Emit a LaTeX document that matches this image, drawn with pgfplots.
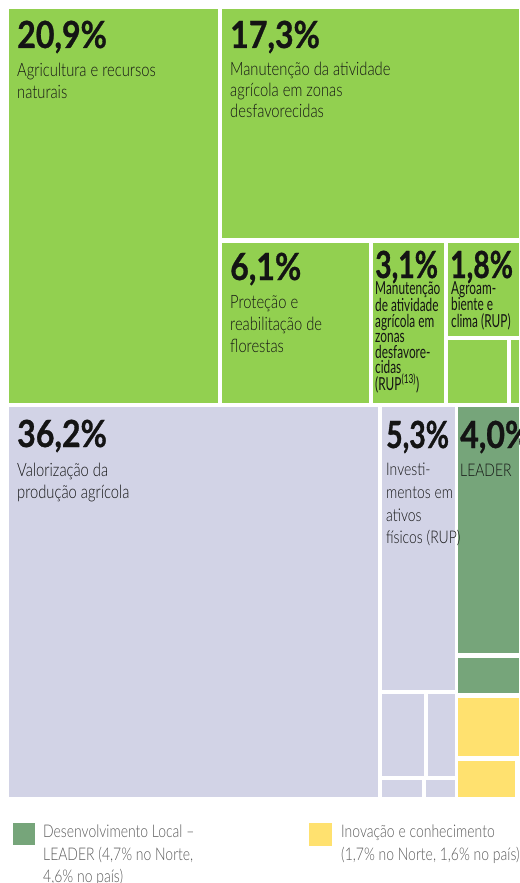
\documentclass[border=0pt]{standalone}
\usepackage{pgfplots}
\pgfplotsset{compat=1.18}
\usepackage{fontspec}
\IfFontExistsTF{Lato Light}{%
  \setmainfont{Lato Light}[FakeStretch=0.80]
}{%
  \setmainfont{Lato}[FakeStretch=0.80]
}
\newfontfamily\narrowfont{Lato}[FakeStretch=0.66]
\newfontfamily\numfont{Lato}[FakeStretch=0.86, FakeBold=0.8]
\newfontfamily\numnarrow{Lato}[FakeStretch=0.76, FakeBold=0.8]
\definecolor{lgreen}{RGB}{146,208,80}
\definecolor{lav}{RGB}{210,211,230}
\definecolor{dgreen}{RGB}{118,165,122}
\definecolor{ylw}{RGB}{255,225,111}
\definecolor{legtxt}{RGB}{90,90,90}
\definecolor{txt}{RGB}{20,20,20}
\newcommand{\rect}[5]{\addplot[fill=#1,draw=none] coordinates {(#2,#4) (#3,#4) (#3,#5) (#2,#5)} --cycle;}
\newcommand{\num}[3]{\node[anchor=base west,inner sep=0,text=txt,font=\numfont\bfseries\fontsize{37.5}{40}\selectfont] at (axis cs:#1,#2) {#3};}
\newcommand{\numn}[3]{\node[anchor=base west,inner sep=0,text=txt,font=\numnarrow\bfseries\fontsize{37.5}{40}\selectfont] at (axis cs:#1,#2) {#3};}
\newcommand{\lab}[3]{\node[anchor=base west,inner sep=0,text=txt,font=\fontsize{18.5}{20}\selectfont] at (axis cs:#1,#2) {#3};}
\newcommand{\slab}[3]{\node[anchor=base west,inner sep=0,text=txt,font=\fontsize{17.5}{20}\selectfont] at (axis cs:#1,#2) {#3};}
\newcommand{\nlab}[3]{\node[anchor=base west,inner sep=0,text=txt,font=\narrowfont\fontsize{18}{20}\selectfont] at (axis cs:#1,#2) {#3};}
\newcommand{\leg}[3]{\node[anchor=base west,inner sep=0,text=legtxt,font=\fontsize{17.5}{20}\selectfont] at (axis cs:#1,#2) {#3};}
\begin{document}
\begin{tikzpicture}
\begin{axis}[scale only axis, width=520bp, height=883bp,
  xmin=0, xmax=520, ymin=0, ymax=883, y dir=reverse,
  hide axis, clip=false]
% green (agriculture)
\rect{lgreen}{9}{218}{9}{403}
\rect{lgreen}{222}{519}{9}{238}
\rect{lgreen}{222}{369}{243}{403}
\rect{lgreen}{373}{444}{243}{403}
\rect{lgreen}{448}{519}{243}{336}
\rect{lgreen}{448}{507}{340}{403}
\rect{lgreen}{511}{519}{340}{403}
% lavender
\rect{lav}{9}{378}{407}{797}
\rect{lav}{382}{455}{407}{690}
\rect{lav}{382}{424}{694}{776}
\rect{lav}{428}{455}{694}{776}
\rect{lav}{382}{422}{780}{797}
\rect{lav}{426}{455}{780}{797}
% dark green
\rect{dgreen}{458}{519}{407}{653}
\rect{dgreen}{458}{519}{658}{693}
% yellow
\rect{ylw}{458}{519}{698}{756}
\rect{ylw}{458}{515}{761}{797}
% legend squares
\rect{dgreen}{13}{35}{823}{845}
\rect{ylw}{309}{332}{823}{846}
% labels
\num{17}{48}{20,9\%}
\lab{17}{77}{Agricultura e recursos}
\lab{17}{99}{naturais}
\num{230}{48}{17,3\%}
\lab{230}{76}{Manutenção da atividade}
\lab{230}{97}{agrícola em zonas}
\lab{230}{118}{desfavorecidas}
\num{230}{280}{6,1\%}
\lab{230}{308}{Proteção e}
\lab{230}{330}{reabilitação de}
\lab{230}{352}{florestas}
\numn{375}{278}{3,1\%}
\nlab{375}{294}{Manutenção}
\nlab{375}{311}{de atividade}
\nlab{375}{327}{agrícola em}
\nlab{375}{342}{zonas}
\nlab{375}{358}{desfavore-}
\nlab{375}{373}{cidas}
\nlab{375}{390}{(RUP\textsuperscript{(13)})}
\numn{450}{278}{1,8\%}
\nlab{451}{294}{Agroam-}
\nlab{451}{310}{biente e}
\nlab{451}{327}{clima (RUP)}
\num{17}{447}{36,2\%}
\lab{17}{476}{Valorização da}
\lab{17}{498}{produção agrícola}
\numn{386}{448}{5,3\%}
\slab{386}{475}{Investi-}
\slab{386}{498}{mentos em}
\slab{386}{521}{ativos}
\slab{386}{543}{físicos (RUP)}
\num{460}{448}{4,0\%}
\slab{460}{476}{LEADER}
% legend text
\leg{43}{837}{Desenvolvimento Local –}
\leg{43}{860}{LEADER (4,7\% no Norte,}
\leg{43}{882}{4,6\% no país)}
\leg{341}{837}{Inovação e conhecimento}
\leg{341}{860}{(1,7\% no Norte, 1,6\% no país)}
\coordinate (tl) at (axis cs:0,0);
\coordinate (br) at (axis cs:520,883);
\end{axis}
\pgfresetboundingbox
\useasboundingbox (tl) rectangle (br);
\end{tikzpicture}
\end{document}
